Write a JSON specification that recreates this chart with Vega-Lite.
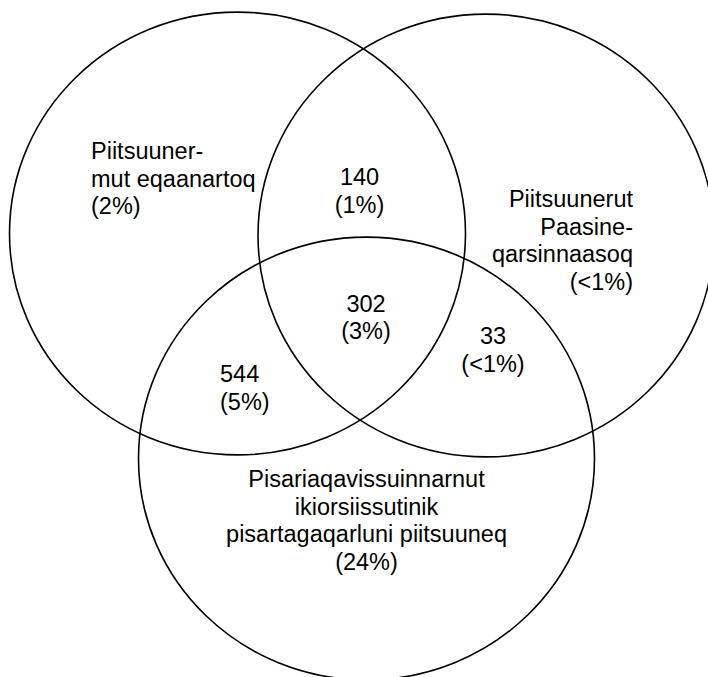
{
  "$schema": "https://vega.github.io/schema/vega-lite/v6.json",
  "width": 708,
  "height": 677,
  "autosize": {"type": "none"},
  "padding": 0,
  "background": "white",
  "config": {"view": {"stroke": null}},
  "layer": [
    {
      "data": {"values": [
        {"set": "left", "cx": 237.5, "cy": 233.5},
        {"set": "right", "cx": 486, "cy": 235.5},
        {"set": "bottom", "cx": 366.5, "cy": 458.5}
      ]},
      "mark": {"type": "point", "shape": "M -1 0 A 1 0.971 0 1 0 1 0 A 1 0.971 0 1 0 -1 0 Z", "filled": false, "stroke": "black", "strokeWidth": 1.6, "opacity": 1, "size": 207936, "clip": true},
      "encoding": {
        "x": {"field": "cx", "type": "quantitative", "scale": {"domain": [0, 708]}, "axis": null},
        "y": {"field": "cy", "type": "quantitative", "scale": {"domain": [0, 677], "reverse": true}, "axis": null}
      }
    },
    {
      "data": {"values": [
        {"label": "Piitsuuner-\nmut eqaanartoq\n(2%)", "x": 91, "y": 152},
        {"label": "544\n(5%)", "x": 220, "y": 375}
      ]},
      "mark": {"type": "text", "align": "left", "baseline": "middle", "font": "Liberation Sans", "fontSize": 23.5, "lineHeight": 27.5, "lineBreak": "\n", "color": "black"},
      "encoding": {
        "x": {"field": "x", "type": "quantitative", "scale": {"domain": [0, 708]}, "axis": null},
        "y": {"field": "y", "type": "quantitative", "scale": {"domain": [0, 677], "reverse": true}, "axis": null},
        "text": {"field": "label"}
      }
    },
    {
      "data": {"values": [
        {"label": "Piitsuunerut\nPaasine-\nqarsinnaasoq\n(<1%)", "x": 633, "y": 200}
      ]},
      "mark": {"type": "text", "align": "right", "baseline": "middle", "font": "Liberation Sans", "fontSize": 23.5, "lineHeight": 27.5, "lineBreak": "\n", "color": "black"},
      "encoding": {
        "x": {"field": "x", "type": "quantitative", "scale": {"domain": [0, 708]}, "axis": null},
        "y": {"field": "y", "type": "quantitative", "scale": {"domain": [0, 677], "reverse": true}, "axis": null},
        "text": {"field": "label"}
      }
    },
    {
      "data": {"values": [
        {"label": "140\n(1%)", "x": 359.5, "y": 178},
        {"label": "302\n(3%)", "x": 366, "y": 304.5},
        {"label": "33\n(<1%)", "x": 493, "y": 337},
        {"label": "Pisariaqavissuinnarnut\nikiorsiissutinik\npisartagaqarluni piitsuuneq\n(24%)", "x": 366.5, "y": 480}
      ]},
      "mark": {"type": "text", "align": "center", "baseline": "middle", "font": "Liberation Sans", "fontSize": 23.5, "lineHeight": 27.5, "lineBreak": "\n", "color": "black"},
      "encoding": {
        "x": {"field": "x", "type": "quantitative", "scale": {"domain": [0, 708]}, "axis": null},
        "y": {"field": "y", "type": "quantitative", "scale": {"domain": [0, 677], "reverse": true}, "axis": null},
        "text": {"field": "label"}
      }
    }
  ]
}
